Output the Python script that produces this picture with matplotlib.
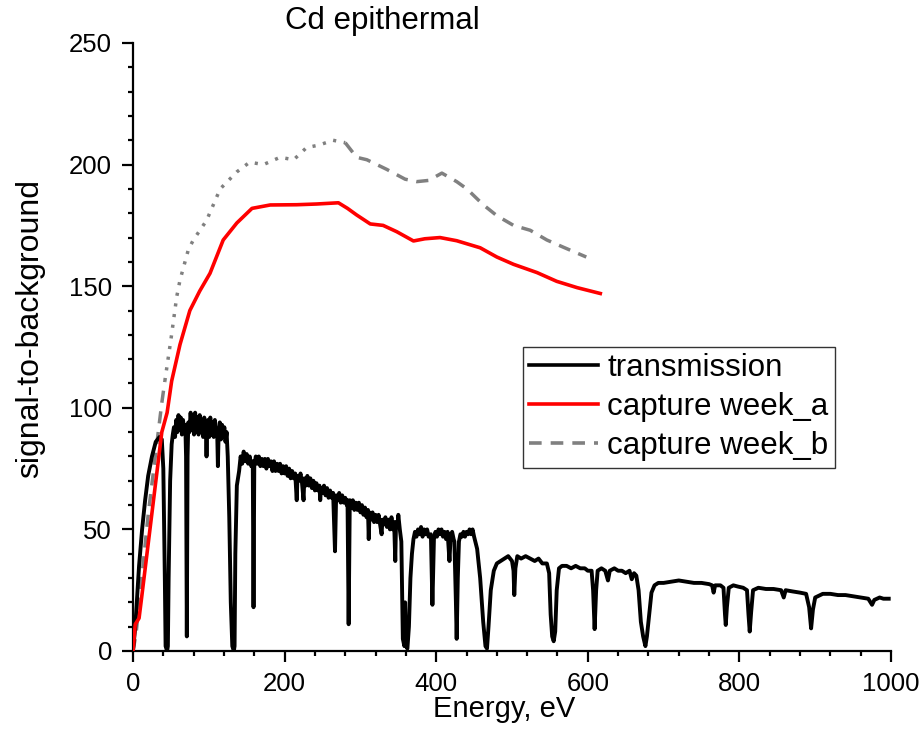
import matplotlib
matplotlib.use("Agg")
import matplotlib.pyplot as plt
from matplotlib.ticker import MultipleLocator
from matplotlib.lines import Line2D

plt.rcParams['font.family'] = ['Liberation Sans', 'DejaVu Sans']

# ---- data ----
trans_E = [0, 3, 8, 12, 16, 20, 25, 30, 35, 38, 40, 42, 43, 45, 46, 47, 49,
           51, 52.5, 54, 55.5, 57, 58.5, 60, 61.5, 63, 64.5, 66, 67.5, 69, 70, 71, 72,
           73, 74.5, 76, 77.5, 79, 80.5, 82, 83.5, 85, 86.5, 88, 89.5, 91, 92.5, 94,
           95.5, 96.5, 97, 97.5, 99, 100.5, 102, 103.5, 105, 106.5, 108, 109.5, 111,
           112, 113, 114.5, 116, 117.5, 119, 120.5, 122, 123.5, 125, 127, 129, 131,
           133, 134, 135,
           137, 140, 142, 144, 146, 148, 150, 152, 154, 156, 158, 159, 160, 162, 164,
           166, 168, 170, 172, 174, 176, 178, 180, 182, 184, 186, 188, 190, 192, 194,
           196, 198, 200, 202, 204, 206, 208, 210, 212, 214, 216, 217, 219, 221, 223,
           225, 226, 228, 230, 232, 234, 236, 238, 240, 242, 244, 246, 247, 248, 250,
           252, 254, 256, 258, 260, 262, 264, 266.5, 268, 270, 272, 274, 276, 278, 280,
           282, 283, 284.5, 286, 288, 290, 292, 294, 296, 298, 300, 302, 304, 306, 308,
           310, 311, 312, 314, 316, 318, 320, 322, 324, 326, 328, 329, 331, 333, 335,
           337, 339, 341, 343, 344.5, 346, 347, 349, 350, 352, 354, 356, 358, 359, 360,
           362, 364, 366, 368, 370, 372, 374, 376, 378, 380, 382, 384, 386, 388, 390,
           393, 395, 397, 399, 401, 403, 405, 407, 409, 411, 413, 415, 417.5, 419, 421,
           423, 424, 426, 427, 428.5, 430, 432, 434, 436, 438, 440, 442, 444, 446, 448,
           450, 454, 458, 462, 465, 467, 469, 472, 476, 480, 485, 490, 495, 500, 502,
           503, 504.5, 507, 512, 518, 524, 530, 535, 540, 546, 549, 551, 553, 555, 557,
           559, 562, 566, 572, 578, 584, 590, 596, 600, 605, 607, 609, 611, 613, 618,
           623, 626.6, 629, 635, 640, 645, 650, 655, 658, 661, 664, 667, 670, 673, 676,
           678, 681, 684, 688, 693, 700, 710, 720, 730, 740, 750, 760, 764, 766, 768,
           775, 779, 781, 782, 783.5, 786, 792, 798, 805, 810, 812, 813.6, 815.5, 818,
           825, 835, 845, 855, 858.5, 861, 870, 880, 888, 892, 894.6, 897, 900, 910,
           920, 930, 940, 950, 960, 970, 975, 978, 985, 990, 997]
trans_V = [0, 10, 35, 50, 62, 72, 80, 86, 88, 87, 75, 30, 2, 0, 2, 30, 70,
           85, 89, 92, 88, 95, 90, 97, 91, 96, 89, 95, 90, 93, 80, 6, 80,
           94, 90, 98, 91, 97, 89, 98, 90, 96, 89, 97, 90, 95, 88, 96,
           89, 92, 80, 92, 95, 88, 96, 89, 94, 88, 95, 89, 91,
           76, 90, 94, 87, 93, 88, 92, 86, 90, 80, 55, 20, 2,
           0, 2, 40,
           68, 74, 80, 77, 82, 78, 81, 77, 80, 76, 78, 18, 76, 80, 77,
           80, 76, 79, 76, 79, 75, 79, 76, 78, 74, 78, 74, 77, 74, 77,
           73, 76, 73, 76, 72, 75, 71, 74, 71, 73, 62, 72, 70, 73, 69,
           62, 71, 68, 72, 68, 71, 67, 70, 66, 69, 66, 68, 62, 67, 65,
           68, 64, 67, 63, 66, 63, 65, 41, 64, 62, 65, 61, 64, 61, 63,
           60, 62, 11, 62, 59, 62, 58, 61, 58, 61, 57, 60, 56, 59, 55,
           58, 46, 57, 54, 57, 53, 56, 53, 56, 52, 48, 54, 52, 55, 51,
           54, 50, 55, 50, 53, 37, 53, 51, 56, 50, 45, 5, 2, 20, 2,
           1, 10, 30, 40, 46, 49, 47, 50, 48, 51, 47, 50, 48, 50, 47,
           48, 19, 46, 49, 47, 50, 48, 50, 47, 49, 46, 49, 37, 47, 49,
           46, 45, 20, 5, 30, 45, 48, 47, 49, 47, 49, 48, 50, 48, 50,
           47, 42, 30, 12, 2, 1, 10, 25, 33, 36, 37, 38, 39, 37, 33,
           23, 34, 39, 38, 39, 38, 37, 38, 36, 36, 32, 15, 6, 4, 8,
           25, 34, 35, 35, 34, 35, 34, 34, 33, 33, 25, 9, 25, 33, 34,
           33, 29, 33, 34, 33, 33, 32, 33, 29.5, 32, 31, 25, 12, 6, 2,
           6, 15, 24, 27, 28, 28, 28.5, 29, 28.5, 28, 28, 27.5, 27, 24, 27,
           27, 26, 15, 10.7, 18, 26, 27, 26.5, 26, 25, 15, 8, 16, 25,
           26, 25.5, 25.5, 25, 22, 25, 24.5, 24, 23.5, 18, 9.3, 17, 22, 23.5,
           23.5, 23, 23, 22.5, 22, 21.5, 19, 21, 22, 21.5, 21.5]

capA_E = [0, 3, 8, 11, 20, 38, 45, 51, 62, 75, 88, 101.6, 119, 137, 157, 181, 216,
          242.5, 271, 283, 295, 313, 330, 348, 370, 385, 405, 427, 458, 480, 502, 533,
          559, 586, 616.5]
capA_V = [0, 11, 13.5, 21, 44, 90, 98, 111, 126, 140, 148, 155.3, 169, 176, 182,
          183.4, 183.5, 183.8, 184.3, 182, 179.3, 175.6, 175, 172.4, 168.6, 169.5, 170,
          168.7, 165.8, 162, 159, 155.6, 152, 149.4, 147]

capB_E = [0, 4, 20, 38, 42, 50, 57.7, 62, 73, 79.6, 97, 115, 137, 154, 172, 194, 212,
          229, 245, 264, 280, 295, 308.5, 335, 359, 374.5, 390, 407.5, 427, 440.5, 462,
          480, 502, 524, 546, 568, 598]
capB_V = [0, 7, 56, 102, 111, 128, 145.7, 152.5, 165, 169, 177, 190, 197, 201, 200,
          203, 202, 207, 208, 210, 209, 203, 202, 198, 194, 193, 193.5, 196.5, 193,
          190, 183.5, 179, 175, 173, 169, 166, 162]

labels = ["transmission", "capture week_a", "capture week_b"]
title = "Cd epithermal"
xlabel = "Energy, eV"
ylabel = "signal-to-background"

# ---- figure ----
fig = plt.figure(figsize=(9.19, 7.5), dpi=100)
L, R, T, B = 133, 891, 43, 651
ax = fig.add_axes([L / 919, 1 - B / 750, (R - L) / 919, (B - T) / 750])

gray = '#808080'
ax.plot(trans_E, trans_V, color='black', lw=2.8, solid_joinstyle='round', zorder=3)
ax.plot(capA_E, capA_V, color='#ff0000', lw=2.6, zorder=4)

# gray curve: dashed, appearing dotted where the points are dense
iA = capB_E.index(42)
iB = capB_E.index(280)
ax.plot(capB_E[:iA + 1], capB_V[:iA + 1], color=gray, lw=2.5, dashes=(3.5, 2.5), zorder=2)
ax.plot(capB_E[iA:iB + 1], capB_V[iA:iB + 1], color=gray, lw=2.5, dashes=(0.9, 2.2), zorder=2)
ax.plot(capB_E[iB:], capB_V[iB:], color=gray, lw=2.5, dashes=(3.5, 2.5), zorder=2)

ax.set_xlim(0, 1000)
ax.set_ylim(0, 250)
ax.xaxis.set_major_locator(MultipleLocator(200))
ax.xaxis.set_minor_locator(MultipleLocator(40))
ax.yaxis.set_major_locator(MultipleLocator(50))
ax.yaxis.set_minor_locator(MultipleLocator(10))

for s in ['top', 'right']:
    ax.spines[s].set_visible(False)
for s in ['left', 'bottom']:
    ax.spines[s].set_linewidth(1.6)
ax.tick_params(which='major', direction='out', length=8, width=1.6, labelsize=18.5, pad=7)
ax.tick_params(which='minor', direction='out', length=3.6, width=1.6)

handles = [Line2D([], [], color='black', lw=2.6),
           Line2D([], [], color='#ff0000', lw=2.6),
           Line2D([], [], color=gray, lw=2.6, dashes=(3.5, 2.5))]
leg = ax.legend(handles, labels, loc='upper left',
                bbox_to_anchor=((523 - L) / (R - L), (B - 347) / (B - T)),
                borderaxespad=0, fontsize=22.5, frameon=True, fancybox=False,
                handlelength=2.2, handletextpad=0.3, borderpad=0.2,
                labelspacing=0.29)
leg.get_frame().set_edgecolor('black')
leg.get_frame().set_linewidth(1.0)

fig.text(382 / 919, 1 - 21 / 750, title, ha='center', va='center', fontsize=22.5)
fig.text(504 / 919, 1 - 709 / 750, xlabel, ha='center', va='center', fontsize=21)
fig.text(30 / 919, 1 - 329 / 750, ylabel, ha='center', va='center', rotation=90, fontsize=23)

fig.savefig("out.png", dpi=100)
